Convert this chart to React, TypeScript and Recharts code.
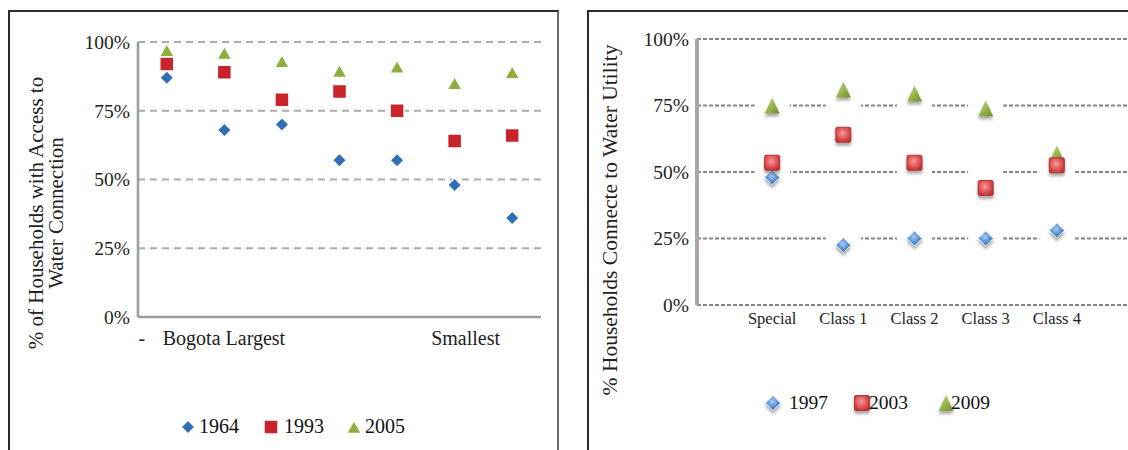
import { CartesianGrid, Legend, Scatter, ScatterChart, XAxis, YAxis } from "recharts";

const FONT = '"Liberation Serif", "Times New Roman", serif';

// left panel: cities ordered from Bogota (largest) to the smallest
const cityRank = [1, 2, 3, 4, 5, 6, 7];
const cityLabels = ["Bogota Largest", "", "", "", "", "Smallest", ""];
const leftYears = ["1964", "1993", "2005"];
const access1964 = [87, 68, 70, 57, 57, 48, 36];
const access1993 = [92, 89, 79, 82, 75, 64, 66];
const access2005 = [97, 96, 93, 89.5, 91, 85, 89];

// right panel: municipality classes
const classIndex = [1, 2, 3, 4, 5];
const classLabels = ["Special", "Class 1", "Class 2", "Class 3", "Class 4"];
const rightYears = ["1997", "2003", "2009"];
const utility1997 = [48, 22.5, 25, 25, 28];
const utility2003 = [53.5, 64, 53.5, 44, 52.5];
const utility2009 = [75, 81, 79.5, 74, 57];

const pctTicks = [0, 25, 50, 75, 100];

const toPoints = (xs: number[], ys: number[]) => ys.map((y, i) => ({ x: xs[i], y }));

const diamondPath = (cx: number, cy: number, r: number) =>
  `M${cx},${cy - r}L${cx + r},${cy}L${cx},${cy + r}L${cx - r},${cy}Z`;
const trianglePath = (cx: number, cy: number, w: number, h: number) =>
  `M${cx},${cy - h / 2}L${cx + w / 2},${cy + h / 2}L${cx - w / 2},${cy + h / 2}Z`;

// flat markers (left)
const flatDiamond = (p: any) => (
  <path d={diamondPath(p.cx, p.cy, 7)} fill="#2f6fb6" stroke="#fff" strokeWidth={1.5} />
);
const flatSquare = (p: any) => (
  <rect x={p.cx - 7} y={p.cy - 7} width={14} height={14} fill="#c9232b" stroke="#fff" strokeWidth={1.5} />
);
const flatTriangle = (p: any) => (
  <path d={trianglePath(p.cx, p.cy, 15, 13)} fill="#8fae3e" stroke="#fff" strokeWidth={1.5} />
);

// glossy markers (right)
const halo = (p: any) => <rect x={p.cx - 17.5} y={p.cy - 18} width={35} height={36} fill="#fff" />;
const glossDiamond = (p: any) => (
  <path d={diamondPath(p.cx, p.cy, 7.5)} fill="url(#blueGloss)" stroke="#e3eefa" strokeWidth={1} filter="url(#dropShadow)" />
);
const glossSquare = (p: any) => (
  <rect x={p.cx - 7.5} y={p.cy - 7.5} width={15} height={15} rx={1.5} fill="url(#redGloss)" stroke="#b53434" strokeWidth={1} filter="url(#dropShadow)" />
);
const glossTriangle = (p: any) => (
  <path d={trianglePath(p.cx, p.cy, 15, 16)} fill="url(#greenGloss)" filter="url(#dropShadow)" />
);

const LeftTick = (props: any) => {
  const { x, y, payload } = props;
  const idx = payload.value - 1;
  const label = cityLabels[idx];
  if (!label) return null;
  if (idx === 0) {
    return (
      <g fontFamily={FONT} fontSize={20} fill="#222">
        <text x={x - 25} y={y + 20} textAnchor="middle">-</text>
        <text x={x - 4} y={y + 20} textAnchor="start">{label}</text>
      </g>
    );
  }
  return (
    <text x={x + 11} y={y + 20} textAnchor="middle" fontFamily={FONT} fontSize={20} fill="#222">
      {label}
    </text>
  );
};

const RightTick = (props: any) => {
  const { x, y, payload } = props;
  return (
    <text x={x} y={y + 11} textAnchor="middle" fontFamily={FONT} fontSize={16.5} fill="#222">
      {classLabels[payload.value - 1]}
    </text>
  );
};

type LegendItem = { label: string; marker: JSX.Element; before: number; gap: number };

const LegendRow = ({ items, size }: { items: LegendItem[]; size: number }) => (
  <div style={{ display: "flex", alignItems: "center", height: 24, fontFamily: FONT, fontSize: size, color: "#111" }}>
    {items.map((it) => (
      <div key={it.label} style={{ display: "flex", alignItems: "center", marginLeft: it.before }}>
        <svg width={16} height={16} style={{ overflow: "visible" }}>{it.marker}</svg>
        <span style={{ marginLeft: it.gap, lineHeight: "24px" }}>{it.label}</span>
      </div>
    ))}
  </div>
);

const leftLegend: LegendItem[] = [
  { label: leftYears[0], marker: flatDiamond({ cx: 8, cy: 9 }), before: 0, gap: 3 },
  { label: leftYears[1], marker: flatSquare({ cx: 8, cy: 9 }), before: 24, gap: 5 },
  { label: leftYears[2], marker: flatTriangle({ cx: 8, cy: 9 }), before: 22, gap: 3 },
];

const rightLegend: LegendItem[] = [
  { label: rightYears[0], marker: glossDiamond({ cx: 8, cy: 8 }), before: 0, gap: 8 },
  { label: rightYears[1], marker: glossSquare({ cx: 8, cy: 8 }), before: 26, gap: -1 },
  { label: rightYears[2], marker: glossTriangle({ cx: 8, cy: 8 }), before: 30, gap: -3 },
];

const frame = { position: "absolute" as const, top: 10, height: 500, borderTop: "2px solid #2b2b2b", borderLeft: "2px solid #2b2b2b" };

export default function App() {
  const left1964 = toPoints(cityRank, access1964);
  const left1993 = toPoints(cityRank, access1993);
  const left2005 = toPoints(cityRank, access2005);
  const right1997 = toPoints(classIndex, utility1997);
  const right2003 = toPoints(classIndex, utility2003);
  const right2009 = toPoints(classIndex, utility2009);

  return (
    <div style={{ position: "relative", width: 1128, height: 450, overflow: "hidden", background: "#fff", fontFamily: FONT }}>
      <style>{"body{margin:0}"}</style>
      <svg width={0} height={0} style={{ position: "absolute" }}>
        <defs>
          <radialGradient id="blueGloss" cx="45%" cy="40%" r="60%">
            <stop offset="0%" stopColor="#a8cdf2" />
            <stop offset="55%" stopColor="#5a94d6" />
            <stop offset="100%" stopColor="#2d62a6" />
          </radialGradient>
          <radialGradient id="redGloss" cx="45%" cy="40%" r="65%">
            <stop offset="0%" stopColor="#f59a9a" />
            <stop offset="55%" stopColor="#e05858" />
            <stop offset="100%" stopColor="#bb2e2e" />
          </radialGradient>
          <linearGradient id="greenGloss" x1="0" y1="0" x2="1" y2="1">
            <stop offset="0%" stopColor="#cde08f" />
            <stop offset="50%" stopColor="#98b74d" />
            <stop offset="100%" stopColor="#6e8c2b" />
          </linearGradient>
          <filter id="dropShadow" x="-50%" y="-50%" width="200%" height="220%">
            <feDropShadow dx="0" dy="3" stdDeviation="1.6" floodColor="#555" floodOpacity="0.5" />
          </filter>
        </defs>
      </svg>

      <div style={{ ...frame, left: 8, width: 547, borderRight: "2px solid #6a6a6a" }} />
      <div style={{ ...frame, left: 587, width: 600 }} />

      <div style={{ position: "absolute", left: 0, top: 0 }}>
        <ScatterChart width={557} height={450} margin={{ top: 42, right: 16, bottom: 12, left: 0 }}>
          <CartesianGrid vertical={false} stroke="#ababab" strokeDasharray="7 5" strokeWidth={2} />
          <XAxis
            type="number"
            dataKey="x"
            domain={[0.5, 7.5]}
            ticks={cityRank}
            interval={0}
            height={97}
            axisLine={{ stroke: "#9c9c9c", strokeWidth: 2.5 }}
            tickLine={false}
            tick={<LeftTick />}
          />
          <YAxis
            type="number"
            dataKey="y"
            domain={[0, 100]}
            ticks={pctTicks}
            width={138}
            axisLine={{ stroke: "#9c9c9c", strokeWidth: 2.5 }}
            tickLine={false}
            tickFormatter={(v: number) => `${v}%`}
            tick={{ fill: "#222", fontSize: 19.5, fontFamily: FONT }}
          />
          <Legend
            verticalAlign="bottom"
            wrapperStyle={{ left: 180, bottom: 12, width: 300 }}
            content={() => <LegendRow items={leftLegend} size={20} />}
          />
          <Scatter name={leftYears[0]} data={left1964} shape={flatDiamond} isAnimationActive={false} />
          <Scatter name={leftYears[2]} data={left2005} shape={flatTriangle} isAnimationActive={false} />
          <Scatter name={leftYears[1]} data={left1993} shape={flatSquare} isAnimationActive={false} />
        </ScatterChart>
      </div>

      <div
        style={{
          position: "absolute",
          left: 46 - 160,
          top: 213 - 20,
          width: 320,
          height: 40,
          lineHeight: "20px",
          fontSize: 21,
          textAlign: "center",
          color: "#222",
          transform: "rotate(-90deg)",
          whiteSpace: "nowrap",
        }}
      >
        % of Households with Access to
        <br />
        Water Connection
      </div>

      <div style={{ position: "absolute", left: 588, top: 0 }}>
        <ScatterChart width={540} height={450} margin={{ top: 39, right: 0, bottom: 35, left: 0 }}>
          <CartesianGrid vertical={false} stroke="#858585" strokeDasharray="4 2" strokeWidth={2} />
          <XAxis
            type="number"
            dataKey="x"
            domain={[0, 6]}
            ticks={classIndex}
            interval={0}
            padding={{ left: 4, right: 0 }}
            height={86}
            axisLine={false}
            tickLine={false}
            tick={<RightTick />}
          />
          <YAxis
            type="number"
            dataKey="y"
            domain={[0, 100]}
            ticks={pctTicks}
            width={109}
            axisLine={{ stroke: "#a8a8a8", strokeWidth: 4 }}
            tickLine={false}
            tickFormatter={(v: number) => `${v}%`}
            tick={{ fill: "#222", fontSize: 19.5, fontFamily: FONT }}
          />
          <Legend
            verticalAlign="bottom"
            wrapperStyle={{ left: 177, bottom: 35, width: 300 }}
            content={() => <LegendRow items={rightLegend} size={19.5} />}
          />
          <Scatter data={right1997} shape={halo} legendType="none" isAnimationActive={false} />
          <Scatter data={right2003} shape={halo} legendType="none" isAnimationActive={false} />
          <Scatter data={right2009} shape={halo} legendType="none" isAnimationActive={false} />
          <Scatter name={rightYears[0]} data={right1997} shape={glossDiamond} isAnimationActive={false} />
          <Scatter name={rightYears[2]} data={right2009} shape={glossTriangle} isAnimationActive={false} />
          <Scatter name={rightYears[1]} data={right2003} shape={glossSquare} isAnimationActive={false} />
        </ScatterChart>
      </div>

      <div
        style={{
          position: "absolute",
          left: 610 - 220,
          top: 220 - 12,
          width: 440,
          height: 24,
          lineHeight: "24px",
          fontSize: 21.5,
          textAlign: "center",
          color: "#222",
          transform: "rotate(-90deg)",
          whiteSpace: "nowrap",
        }}
      >
        % Households Connecte to Water Utility
      </div>
    </div>
  );
}
